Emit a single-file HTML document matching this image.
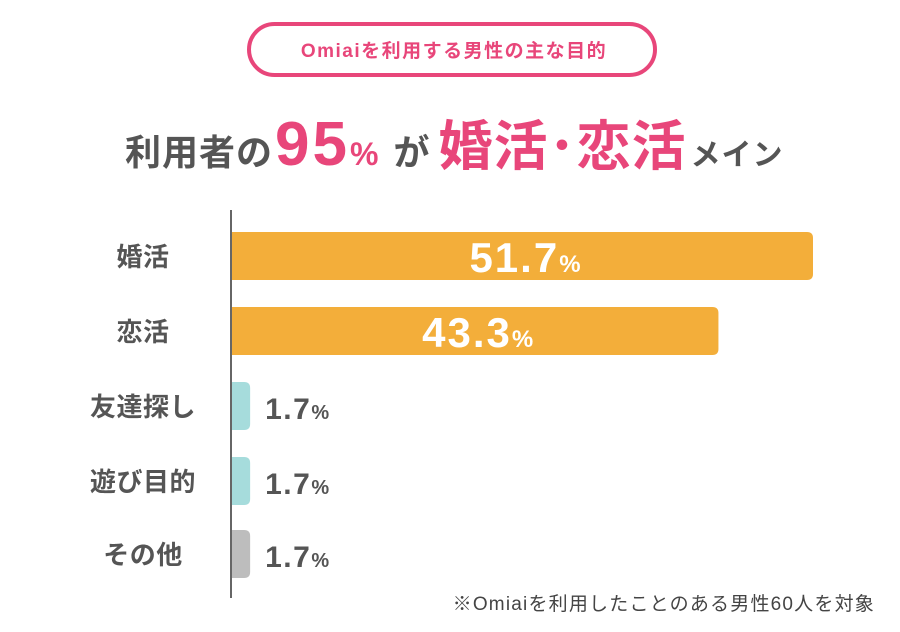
<!DOCTYPE html>
<html><head><meta charset="utf-8"><style>
body{margin:0;background:#fff;}
svg{display:block;font-family:"Liberation Sans","Noto Sans CJK JP",sans-serif;font-weight:bold;}
</style></head><body>
<svg width="900" height="632" viewBox="0 0 900 632">
<rect x="249" y="24" width="406" height="51" rx="25.5" fill="#fff" stroke="#e8467a" stroke-width="4"/>
<text x="454" y="57" text-anchor="middle" font-size="19" letter-spacing="1.5" fill="#e8467a">Omiaiを利用する男性の主な目的</text>
<text y="165" font-size="36" letter-spacing="1" fill="#555"><tspan x="125">利用者の</tspan><tspan font-size="62" fill="#e8467a" dx="2" letter-spacing="3">95</tspan><tspan font-size="32" fill="#e8467a">%</tspan><tspan dx="14">が</tspan><tspan font-size="54" fill="#e8467a" dx="8">婚活･恋活</tspan><tspan font-size="30" dx="4">メイン</tspan></text>
<g id="bars"></g>
<line x1="231" y1="210" x2="231" y2="598" stroke="#666" stroke-width="2"/>
<text x="875" y="610" text-anchor="end" font-size="19" letter-spacing="1.2" font-weight="normal" fill="#444">※Omiaiを利用したことのある男性60人を対象</text>
</svg>
<script>
const categories=["婚活","恋活","友達探し","遊び目的","その他"];
const values=[51.7,43.3,1.7,1.7,1.7];
const colors=["#f3ae3a","#f3ae3a","#a6dcdc","#a6dcdc","#bdbdbd"];
const x0=231,pxPer=582/51.7;
const xs=v=>x0+v*pxPer;
const ys=i=>[232,307,382,457,530][i];
const g=document.getElementById('bars');
const NS="http://www.w3.org/2000/svg";
categories.forEach((c,i)=>{
 const w=xs(values[i])-x0,y=ys(i);
 const p=document.createElementNS(NS,'path');
 const r=Math.min(6,w/2);
 p.setAttribute('d',`M${x0} ${y}H${x0+w-r}Q${x0+w} ${y} ${x0+w} ${y+r}V${y+48-r}Q${x0+w} ${y+48} ${x0+w-r} ${y+48}H${x0}Z`);
 p.setAttribute('fill',colors[i]);
 
 
 g.appendChild(p);
 const l=document.createElementNS(NS,'text');
 l.setAttribute('x',143);l.setAttribute('y',y+34);l.setAttribute('text-anchor','middle');
 l.setAttribute('font-size','26');l.setAttribute('letter-spacing','0.5');l.setAttribute('fill','#555');
 l.textContent=c;
 
 
 g.appendChild(l);
 const t=document.createElementNS(NS,'text');
 const big=values[i]>10;
 t.setAttribute('fill',big?'#fff':'#555');
 t.setAttribute('font-size',big?'42':'30');
 t.setAttribute('letter-spacing',big?'2':'1.5');
 if(big){t.setAttribute('x',x0+w/2+4);t.setAttribute('y',y+40);t.setAttribute('text-anchor','middle');}
 else{t.setAttribute('x',xs(values[i])+15);t.setAttribute('y',y+37);}
 t.innerHTML=values[i].toFixed(1)+'<tspan font-size="'+(big?24:20)+'">%</tspan>';
 
 
 g.appendChild(t);
});
</script>
</body></html>
